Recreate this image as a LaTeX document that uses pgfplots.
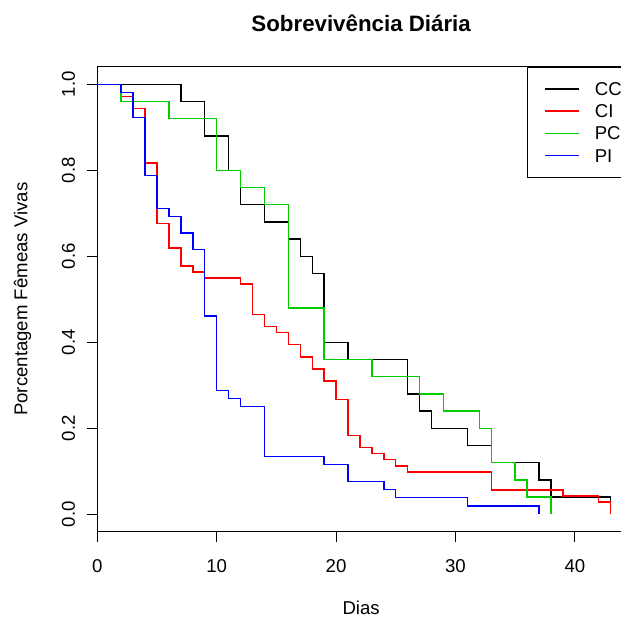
\documentclass[border=0pt]{standalone}
\usepackage{fontspec}
\setmainfont{Liberation Sans}
\usepackage{pgfplots}
\pgfplotsset{compat=1.18}
\definecolor{rgreen}{RGB}{0,205,0}
\definecolor{rred}{RGB}{255,0,0}
\definecolor{rblue}{RGB}{0,0,255}
\begin{document}
\begin{tikzpicture}
\useasboundingbox (0,0) rectangle (621bp,618bp);
\begin{axis}[
  at={(97.3bp,86.3bp)}, anchor=south west,
  scale only axis, width=527.7bp, height=465bp,
  xmin=0, xmax=44.2, ymin=-0.0405, ymax=1.041,
  axis line style={line width=1bp},
  tick align=outside, major tick length=10.7bp,
  xtick pos=left, ytick pos=left,
  xtick={0,10,20,30,40},
  ytick={0,0.2,0.4,0.6,0.8,1},
  yticklabels={0.0,0.2,0.4,0.6,0.8,1.0},
  tick style={line width=1bp, black},
  /pgf/number format/assume math mode=true,
  ticklabel style={font=\fontsize{18.6bp}{22bp}\selectfont, inner sep=0pt},
  xticklabel style={anchor=base},
  yticklabel style={rotate=90, anchor=base},
  xticklabel shift=29.9bp,
  yticklabel shift=11.6bp,
  title={\bfseries Sobrevivência Diária},
  title style={at={(axis description cs:0.5,1.0626)}, anchor=base, font=\fontsize{22.3bp}{26bp}\selectfont},
  xlabel={Dias},
  xlabel style={at={(axis description cs:0.5,-0.1785)}, anchor=base, font=\fontsize{18.6bp}{22bp}\selectfont},
  ylabel={Porcentagem Fêmeas Vivas},
  ylabel style={at={(axis description cs:-0.1323,0.5)}, anchor=base, font=\fontsize{18.6bp}{22bp}\selectfont},
  legend cell align=left,
  legend image code/.code={\draw[#1] (0bp,0bp) -- (33.7bp,0bp);},
  legend style={at={(axis cs:35.96,1.041)}, anchor=north west, draw=black, line width=1bp,
    inner xsep=17.3bp, inner ysep=15bp, row sep=8.8bp, column sep=15.3bp,
    font=\fontsize{18.6bp}{22bp}\selectfont,
    nodes={inner sep=0pt, text height=13.4bp, text depth=0pt}},
]
\addplot[const plot, draw=black, line width=1.4bp] coordinates {
(0,1) (7,0.96) (9,0.88) (11,0.80) (12,0.72) (14,0.68) (16,0.64) (17,0.60) (18,0.56)
(19,0.40) (21,0.36) (26,0.28) (27,0.24) (28,0.20) (31,0.16) (33,0.12) (37,0.08) (38,0.04) (43,0)};
\addplot[const plot, draw=rred, line width=1.4bp] coordinates {
(0,1) (2,0.9718) (3,0.9437) (4,0.8169) (5,0.6761) (6,0.6197) (7,0.5775) (8,0.5634) (9,0.5493)
(12,0.5352) (13,0.4648) (14,0.4366) (15,0.4225) (16,0.3944) (17,0.3662) (18,0.3380) (19,0.3099)
(20,0.2676) (21,0.1831) (22,0.1549) (23,0.1408) (24,0.1268) (25,0.1127) (26,0.0986) (33,0.0563)
(39,0.0423) (42,0.0282) (43,0)};
\addplot[const plot, draw=rgreen, line width=1.4bp] coordinates {
(0,1) (2,0.96) (6,0.92) (10,0.80) (12,0.76) (14,0.72) (16,0.48) (19,0.36) (23,0.32) (27,0.28)
(29,0.24) (32,0.20) (33,0.12) (35,0.08) (36,0.04) (38,0)};
\addplot[const plot, draw=rblue, line width=1.4bp] coordinates {
(0,1) (2,0.9808) (3,0.9231) (4,0.7885) (5,0.7115) (6,0.6923) (7,0.6538) (8,0.6154) (9,0.4615)
(10,0.2885) (11,0.2692) (12,0.25) (14,0.1346) (19,0.1154) (21,0.0769) (24,0.0577) (25,0.0385)
(31,0.0192) (37,0)};
\legend{CC,CI,PC,PI}
\end{axis}
\end{tikzpicture}
\end{document}
